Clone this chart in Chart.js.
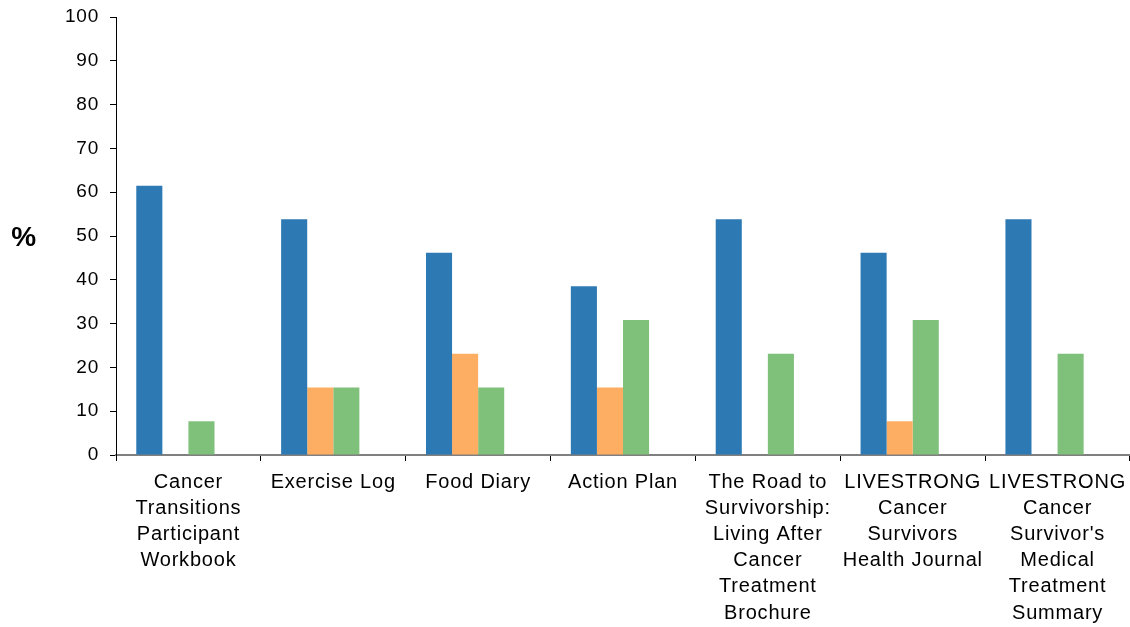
<!DOCTYPE html>
<html>
<head>
<meta charset="utf-8">
<script src="https://cdn.jsdelivr.net/npm/chart.js@4.4.1/dist/chart.umd.min.js"></script>
<style>
  html, body { margin: 0; padding: 0; background: #fff; }
  #wrap { width: 1130px; height: 627px; position: relative; }
</style>
</head>
<body>
<div id="wrap"><canvas id="chart"></canvas></div>
<script>
// Resource names (multi-line labels)
const categories = [
  ['Cancer', 'Transitions', 'Participant', 'Workbook'],
  ['Exercise Log'],
  ['Food Diary'],
  ['Action Plan'],
  ['The Road to', 'Survivorship:', 'Living After', 'Cancer', 'Treatment', 'Brochure'],
  ['LIVESTRONG', 'Cancer', 'Survivors', 'Health Journal'],
  ['LIVESTRONG', 'Cancer', "Survivor's", 'Medical', 'Treatment', 'Summary']
];

// Percentages per series
const seriesA = [61.5, 53.8, 46.2, 38.5, 53.8, 46.2, 53.8];
const seriesB = [0, 15.4, 23.1, 15.4, 0, 7.7, 0];
const seriesC = [7.7, 15.4, 15.4, 30.8, 23.1, 30.8, 23.1];
const seriesD = [0, 0, 0, 0, 0, 0, 0];

const yTicks = [0, 10, 20, 30, 40, 50, 60, 70, 80, 90, 100];

const FONT = '"Liberation Sans", Arial, sans-serif';

// Slightly wider glyph spacing, and the horizontal "%" axis label
const textPlugin = {
  id: 'textTweaks',
  beforeDraw(chart) {
    chart.ctx.letterSpacing = '0.8px';
  },
  afterDraw(chart) {
    const ctx = chart.ctx;
    ctx.save();
    ctx.font = 'bold 28px ' + FONT;
    ctx.fillStyle = '#000';
    ctx.textAlign = 'center';
    ctx.textBaseline = 'middle';
    ctx.fillText('%', 24, 238);
    ctx.restore();
  }
};

new Chart(document.getElementById('chart'), {
  type: 'bar',
  data: {
    labels: categories,
    datasets: [
      { label: 'A', data: seriesA, backgroundColor: '#2C79B4' },
      { label: 'B', data: seriesB, backgroundColor: '#FDAE62' },
      { label: 'C', data: seriesC, backgroundColor: '#7FC07A' },
      { label: 'D', data: seriesD, backgroundColor: 'rgba(0,0,0,0)' }
    ]
  },
  options: {
    responsive: true,
    maintainAspectRatio: false,
    animation: false,
    devicePixelRatio: 1,
    layout: { padding: { top: 17, left: 0, right: 0, bottom: 0 } },
    datasets: {
      bar: { categoryPercentage: 0.72, barPercentage: 1.0, borderWidth: 0 }
    },
    plugins: {
      legend: { display: false },
      tooltip: { enabled: false }
    },
    scales: {
      x: {
        offset: true,
        grid: {
          offset: true,
          drawOnChartArea: false,
          drawTicks: true,
          tickLength: 6,
          tickColor: '#000',
          tickWidth: 1
        },
        border: { color: '#808080', width: 2 },
        ticks: {
          autoSkip: false,
          maxRotation: 0,
          minRotation: 0,
          padding: 8,
          color: '#000',
          font: { family: FONT, size: 20, lineHeight: 1.31 }
        },
        afterFit(scale) {
          scale.height = 172;
          scale.paddingLeft = 0;
          scale.paddingRight = 0;
        }
      },
      y: {
        min: 0,
        max: 100,
        afterBuildTicks(scale) { scale.ticks = yTicks.map(v => ({ value: v })); },
        grid: {
          drawOnChartArea: false,
          drawTicks: true,
          tickLength: 6,
          tickColor: '#000'
        },
        border: { color: '#000', width: 1 },
        ticks: {
          padding: 11,
          color: '#000',
          font: { family: FONT, size: 19 }
        },
        afterFit(scale) {
          scale.width = 116;
          scale.paddingTop = 0;
          scale.paddingBottom = 0;
        }
      }
    }
  },
  plugins: [textPlugin]
});
</script>
</body>
</html>
